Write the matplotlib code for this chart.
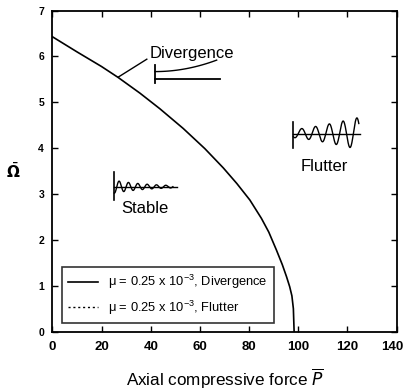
import numpy as np
import matplotlib
matplotlib.use("Agg")
import matplotlib.pyplot as plt
from matplotlib.transforms import ScaledTranslation

plt.rcParams['font.family'] = ['Liberation Sans', 'DejaVu Sans']

# Divergence boundary
P_div = [0, 10, 20, 26.8, 35.6, 43.7, 53.2, 62, 69.5, 75, 80.3, 85, 88, 91.1, 93.5, 95.2, 96.5, 97.4, 98.0, 98.3]
W_div = [6.43, 6.1, 5.78, 5.54, 5.2, 4.86, 4.43, 3.99, 3.57, 3.23, 2.87, 2.47, 2.17, 1.78, 1.46, 1.2, 0.98, 0.78, 0.5, 0.0]
# Flutter boundary (no visible points in the picture)
P_flu = []
W_flu = []

x_ticks = [0, 20, 40, 60, 80, 100, 120, 140]
y_ticks = [0, 1, 2, 3, 4, 5, 6, 7]

fig = plt.figure(figsize=(4.06, 3.92), dpi=100)
ax = fig.add_axes([0.129, 0.154, 0.848, 0.819])

ax.plot(P_div, W_div, color='black', lw=1.2,
        label=r'μ = 0.25 x 10$^{\mathregular{-3}}$, Divergence')
ax.plot(P_flu, W_flu, color='black', lw=1.0, ls=(0, (1.5, 2)),
        label=r'μ = 0.25 x 10$^{\mathregular{-3}}$, Flutter')

ax.set_xlim(0, 140)
ax.set_ylim(0, 7)
ax.set_xticks(x_ticks)
ax.set_yticks(y_ticks)
ax.tick_params(direction='in', top=True, right=True, length=4, width=1)
ax.tick_params(axis='x', labelsize=9.5, pad=7)
ax.tick_params(axis='y', labelsize=7.5, pad=6)
for lab in ax.get_xticklabels() + ax.get_yticklabels():
    lab.set_fontweight('bold')
last = ax.get_xticklabels()[-1]
last.set_transform(last.get_transform() + ScaledTranslation(-3 / 72, 0, fig.dpi_scale_trans))
for s in ax.spines.values():
    s.set_linewidth(1.3)

ax.set_xlabel(r'Axial compressive force $\overline{P}$', fontsize=12.3, labelpad=10)
ax.set_ylabel(r'$\bar{\mathbf{\Omega}}$', fontsize=11, rotation=0, va='center', ha='center')
ax.yaxis.set_label_coords(-0.113, 0.498)

leg = ax.legend(loc='lower left', bbox_to_anchor=(0.028, 0.027), fontsize=9.3,
                frameon=True, fancybox=False, edgecolor='black', handlelength=2.3,
                borderpad=0.48, labelspacing=0.55, handletextpad=0.8, borderaxespad=0)
leg.get_frame().set_linewidth(1.2)

# Divergence annotation
ax.text(39.4, 6.07, 'Divergence', fontsize=12, ha='left', va='center')
ax.plot([26.8, 38.4], [5.55, 5.94], color='black', lw=1.0)
ax.plot([41.8, 41.8], [5.42, 5.81], color='black', lw=1.3)
ax.plot([41.8, 68.2], [5.50, 5.50], color='black', lw=1.3)
cx = np.linspace(41.8, 66.8, 30)
ax.plot(cx, 5.67 + 0.25 * ((cx - 41.8) / 25.0) ** 2, color='black', lw=1.0)

# Stable icon (schematic)
ax.plot([25.2, 25.2], [2.87, 3.47], color='black', lw=1.2)
ax.plot([25.2, 50.5], [3.16, 3.16], color='black', lw=1.0)
sx = np.linspace(25.2, 49, 300)
ax.plot(sx, 3.16 + 0.14 * np.exp(-(sx - 25.2) / 14) * np.sin(2 * np.pi * (sx - 26.2) / 3.8),
        color='black', lw=1.0)
ax.text(37.7, 2.69, 'Stable', fontsize=12, ha='center', va='center')

# Flutter icon (schematic)
ax.plot([98.0, 98.0], [4.0, 4.58], color='black', lw=1.2)
ax.plot([98.0, 125.0], [4.30, 4.30], color='black', lw=1.0)
fx = np.linspace(98.0, 124.6, 400)
amp = 0.09 + 0.26 * ((fx - 98.0) / 26.6) ** 1.3
ax.plot(fx, 4.32 + amp * np.sin(2 * np.pi * (fx - 100.0) / 5.6), color='black', lw=1.0)
ax.text(110.6, 3.60, 'Flutter', fontsize=12, ha='center', va='center')

fig.savefig('out.png', dpi=100)
